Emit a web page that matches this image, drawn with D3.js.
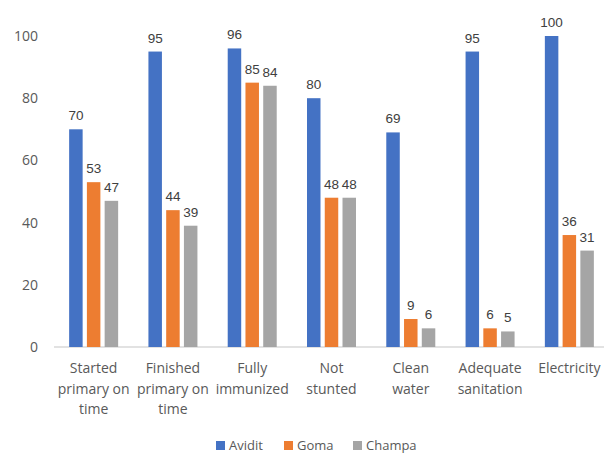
<!DOCTYPE html>
<html>
<head>
<meta charset="utf-8">
<script src="https://cdn.jsdelivr.net/npm/d3@7"></script>
<style>
  html, body { margin: 0; padding: 0; background: #fff; }
  svg { display: block; }
</style>
</head>
<body>
<script>
// Indicator categories (multi-line labels split on "|")
const categories = [
  "Started|primary on|time",
  "Finished|primary on|time",
  "Fully|immunized",
  "Not|stunted",
  "Clean|water",
  "Adequate|sanitation",
  "Electricity"
];
const seriesNames = ["Avidit", "Goma", "Champa"];
const avidit = [70, 95, 96, 80, 69, 95, 100];
const goma   = [53, 44, 85, 48, 9, 6, 36];
const champa = [47, 39, 84, 48, 6, 5, 31];
const yTicks = [0, 20, 40, 60, 80, 100];

const colors = ["#4472C4", "#ED7D31", "#A5A5A5"];
const seriesValues = [avidit, goma, champa];

const W = 604, H = 454;
const GROUP_W = 49;
const svg = d3.select("body").append("svg").attr("width", W).attr("height", H);

const x0 = d3.scaleBand().domain(categories).range([54, 609]).paddingInner(0).paddingOuter(0);
const x1 = d3.scaleBand().domain(seriesNames).range([0, GROUP_W]).paddingInner(0.24).paddingOuter(0);
const y = d3.scaleLinear().domain([0, 100]).range([347, 36]);

// Y axis labels
const yAxis = d3.axisLeft(y).tickValues(yTicks).tickSize(0).tickPadding(0);
const yg = svg.append("g").attr("transform", "translate(38,0)").call(yAxis);
yg.select(".domain").remove();
yg.selectAll("text")
  .attr("fill", "#595959")
  .style("font-family", "'Open Sans', sans-serif")
  .style("font-size", "14px");

// Baseline
svg.append("line")
  .attr("x1", 54).attr("x2", W)
  .attr("y1", y(0)).attr("y2", y(0))
  .attr("stroke", "#d9d9d9").attr("stroke-width", 1.5);

// Bars
const groups = svg.selectAll("g.cat").data(categories).enter().append("g")
  .attr("class", "cat")
  .attr("transform", d => `translate(${x0(d) + (x0.bandwidth() - GROUP_W) / 2},0)`);

groups.each(function(cat, ci) {
  const g = d3.select(this);
  seriesNames.forEach((s, si) => {
    const v = seriesValues[si][ci];
    g.append("rect")
      .attr("x", x1(s))
      .attr("width", x1.bandwidth())
      .attr("y", y(v))
      .attr("height", y(0) - y(v))
      .attr("fill", colors[si]);
    g.append("text")
      .attr("x", x1(s) + x1.bandwidth() / 2)
      .attr("y", y(v) - 9)
      .attr("text-anchor", "middle")
      .attr("fill", "#404040")
      .style("font-family", "'Liberation Sans', Arial, sans-serif")
      .style("font-size", "13.5px")
      .text(v);
  });
});

// Category labels
const xl = svg.append("g");
categories.forEach(cat => {
  const lines = cat.split("|");
  const t = xl.append("text")
    .attr("text-anchor", "middle")
    .attr("fill", "#595959")
    .style("font-family", "'Open Sans', sans-serif")
    .style("font-size", "14px");
  lines.forEach((ln, i) => {
    t.append("tspan")
      .attr("x", x0(cat) + x0.bandwidth() / 2)
      .attr("y", 373 + i * 20.5)
      .text(ln);
  });
});

// Legend
const legendX = [216, 284, 353];
const lg = svg.append("g");
seriesNames.forEach((s, i) => {
  lg.append("rect")
    .attr("x", legendX[i]).attr("y", 441)
    .attr("width", 9).attr("height", 9)
    .attr("fill", colors[i]);
  lg.append("text")
    .attr("x", legendX[i] + 13).attr("y", 450)
    .attr("fill", "#595959")
    .style("font-family", "'Open Sans', sans-serif")
    .style("font-size", "13px")
    .text(s);
});
</script>
</body>
</html>
